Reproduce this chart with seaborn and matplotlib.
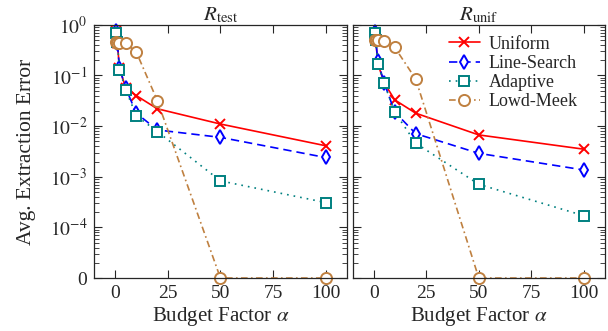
import numpy as np
import pandas as pd
import matplotlib
matplotlib.use("Agg")
import matplotlib.pyplot as plt
import seaborn as sns

# budget factors and errors (0 = exact extraction)
alpha = [0.5, 1, 2, 5, 10, 20, 50, 100]

test_uniform = [0.74, 0.43, 0.14, 0.056, 0.040, 0.022, 0.011, 0.0041]
test_linesearch = [0.76, 0.43, 0.14, 0.056, 0.018, 0.0084, 0.0060, 0.0024]
test_adaptive = [0.68, 0.45, 0.13, 0.052, 0.016, 0.0078, 0.00083, 0.00031]
test_lowdmeek = [0.45, 0.44, 0.44, 0.43, 0.29, 0.032, 0, 0]

unif_uniform = [0.68, 0.50, 0.17, 0.072, 0.033, 0.018, 0.0067, 0.0035]
unif_linesearch = [0.72, 0.50, 0.19, 0.072, 0.019, 0.0071, 0.0029, 0.00136]
unif_adaptive = [0.68, 0.50, 0.17, 0.070, 0.019, 0.0046, 0.00071, 0.00017]
unif_lowdmeek = [0.50, 0.50, 0.50, 0.49, 0.36, 0.085, 0, 0]

methods = ["Uniform", "Line-Search", "Adaptive", "Lowd-Meek"]
panels = ["$R_{\\mathrm{test}}$", "$R_{\\mathrm{unif}}$"]
ytick_vals = [1e-5, 1e-4, 1e-3, 1e-2, 1e-1, 1]
ytick_labels = ["0", "$10^{-4}$", "$10^{-3}$", "$10^{-2}$", "$10^{-1}$", "$10^{0}$"]

data = {
    panels[0]: [test_uniform, test_linesearch, test_adaptive, test_lowdmeek],
    panels[1]: [unif_uniform, unif_linesearch, unif_adaptive, unif_lowdmeek],
}

# zero is shown at the bottom of the log axis
floor = 1e-5

colors = {"Uniform": "#ff0000", "Line-Search": "#0000ff",
          "Adaptive": "#008080", "Lowd-Meek": "#bf8040"}
markers = {"Uniform": "x", "Line-Search": "d", "Adaptive": "s", "Lowd-Meek": "o"}
lstyles = {"Uniform": "-", "Line-Search": (0, (5, 3)),
           "Adaptive": (0, (1, 3)), "Lowd-Meek": (0, (4, 2, 1, 2))}
msizes = {"Uniform": 7, "Line-Search": 7, "Adaptive": 7, "Lowd-Meek": 8}

sns.set_style("ticks")
plt.rcParams["font.family"] = ["Liberation Serif", "DejaVu Serif"]
plt.rcParams["mathtext.fontset"] = "stix"

fig, axes = plt.subplots(1, 2, figsize=(6.08, 3.31), dpi=100, sharey=True)
fig.subplots_adjust(left=0.155, right=0.995, top=0.925, bottom=0.16, wspace=0.024)

for ax, panel in zip(axes, panels):
    for name, vals in zip(methods, data[panel]):
        df = pd.DataFrame({"alpha": alpha, "err": np.maximum(vals, floor)})
        c = colors[name]
        sns.lineplot(data=df, x="alpha", y="err", ax=ax, color=c,
                     marker=markers[name], linestyle=lstyles[name], lw=1.2,
                     ms=msizes[name], mfc="white" if name != "Uniform" else c,
                     mec=c, mew=1.4, label=name, clip_on=False, legend=False)
    ax.set_yscale("log")
    ax.set_ylim(floor, 1)
    ax.set_xlim(-10, 110)
    ax.set_xticks([0, 25, 50, 75, 100])
    ax.set_yticks(ytick_vals)
    ax.set_yticklabels(ytick_labels)
    ax.set_title(panel, fontsize=15, pad=3)
    ax.set_xlabel("Budget Factor $\\alpha$", fontsize=15, labelpad=2)
    ax.set_ylabel("")
    ax.tick_params(which="both", direction="in", top=True, right=True, labelsize=14)
    ax.tick_params(which="major", length=6, width=0.8, pad=5)
    ax.tick_params(which="minor", length=3.5, width=0.6)
    ax.tick_params(axis="x", which="minor", bottom=False, top=False)
    for s in ax.spines.values():
        s.set_linewidth(0.9)

axes[1].tick_params(labelleft=False)
axes[0].set_ylabel("Avg. Extraction Error", fontsize=15.5, labelpad=10)

axes[1].legend(loc="upper right", bbox_to_anchor=(0.935, 1.0), frameon=False,
               fontsize=13, handlelength=1.7, labelspacing=0.12,
               borderaxespad=0.2, handletextpad=0.5)

fig.savefig("out.png", dpi=100)
